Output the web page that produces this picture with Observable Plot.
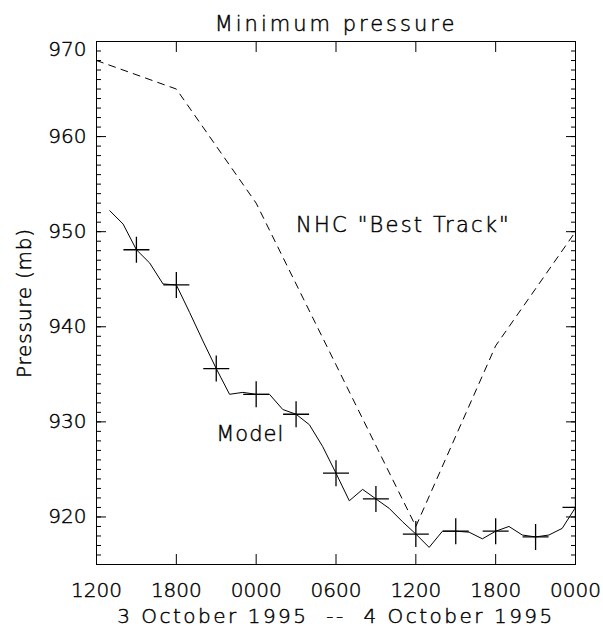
<!DOCTYPE html>
<html>
<head>
<meta charset="utf-8">
<script src="https://cdn.jsdelivr.net/npm/d3@7"></script>
<script src="https://cdn.jsdelivr.net/npm/@observablehq/plot@0.6"></script>
<style>
  body { margin: 0; background: #fff; }
  #chart svg { display: block; }
</style>
</head>
<body>
<div id="chart"></div>
<script>
// ---- Data ----
const titleText = "Minimum pressure";
const yLabelText = "Pressure (mb)";
const captionText = "3 October 1995 \u00a0--\u00a0 4 October 1995";

// x = hours after 1200 UTC 3 October 1995
const hourTicks  = [0, 6, 12, 18, 24, 30, 36];
const hourLabels = ["1200", "1800", "0000", "0600", "1200", "1800", "0000"];
const pressureTicks = [920, 930, 940, 950, 960, 970];
const pressureMinorTicks = [915,916,917,918,919,920,921,922,923,924,925,926,927,928,929,930,931,932,933,934,935,936,937,938,939,940,941,942,943,944,945,946,947,948,949,950,951,952,953,954,955,956,957,958,959,960,961,962,963,964,965,966,967,968,969,970];

// NHC "Best Track" (dashed)
const bestTrackHours    = [0, 6, 12, 18, 24, 30, 36];
const bestTrackPressure = [968, 965, 953, 936, 919, 938, 950];

// Model (solid), hourly
const modelHours    = [1,2,3,4,5,6,7,8,9,10,11,12,13,14,15,16,17,18,19,20,21,22,23,24,25,26,27,28,29,30,31,32,33,34,35,36];
const modelPressure = [952.2,950.8,948.1,946.7,944.5,944.4,941.5,938.5,935.6,932.9,933.1,932.9,932.9,931.3,930.8,929.7,927.4,924.6,921.7,922.9,921.9,920.9,919.5,918.2,916.8,918.5,918.5,918.4,917.7,918.5,919.0,918.1,917.9,918.1,918.8,921.0];
// plus markers every 3 hours
const markerHours = [3,6,9,12,15,18,21,24,27,30,33,36];

const seriesLabels = [
  {text: "NHC \"Best Track\"", hour: 15, pressure: 950},
  {text: "Model", hour: 9, pressure: 928}
];

// ---- Build tables ----
const bestTrack = bestTrackHours.map((h, i) => ({hour: h, pressure: bestTrackPressure[i]}));
const model = modelHours.map((h, i) => ({hour: h, pressure: modelPressure[i]}));
const markers = model.filter(d => markerHours.includes(d.hour));
const topTick = pressureTicks.filter(d => d === 970);
const otherTicks = pressureTicks.filter(d => d !== 970);

const plusSymbol = {
  draw(ctx, size) {
    const r = Math.sqrt(size / Math.PI);
    ctx.moveTo(-r, 0); ctx.lineTo(r, 0);
    ctx.moveTo(0, -r); ctx.lineTo(0, r);
  }
};

const FONT = "DejaVu Sans";
const noText = () => "";

const chart = Plot.plot({
  width: 603,
  height: 626,
  marginLeft: 96,
  marginRight: 28,
  marginTop: 41,
  marginBottom: 62,
  style: {fontFamily: FONT, fontSize: "20px", fontWeight: 300, color: "black", background: "white"},
  x: {domain: [0, 36], label: null},
  y: {domain: [915, 970], label: null},
  marks: [
    // frame
    Plot.frame({stroke: "black", strokeWidth: 1}),
    // y minor + major ticks (inward), both sides
    Plot.axisY(pressureMinorTicks, {anchor: "left", tickSize: -5, tickFormat: noText, label: null}),
    Plot.axisY(pressureMinorTicks, {anchor: "right", tickSize: -5, tickFormat: noText, label: null}),
    Plot.axisY(pressureTicks, {anchor: "left", tickSize: -10, tickFormat: noText, label: null}),
    Plot.axisY(pressureTicks, {anchor: "right", tickSize: -10, tickFormat: noText, label: null}),
    // y labels
    Plot.axisY(otherTicks, {anchor: "left", tickSize: 0, tickPadding: 10, label: null, fontSize: 20}),
    Plot.axisY(topTick, {anchor: "left", tickSize: 0, tickPadding: 10, label: null, fontSize: 20, dy: 8}),
    // x ticks (inward) top and bottom
    Plot.axisX(hourTicks, {anchor: "bottom", tickSize: -10, tickFormat: noText, label: null}),
    Plot.axisX(hourTicks, {anchor: "top", tickSize: -10, tickFormat: noText, label: null}),
    // x labels
    Plot.axisX(hourTicks, {anchor: "bottom", tickSize: 0, tickPadding: 18, label: null, fontSize: 20,
      tickFormat: d => hourLabels[hourTicks.indexOf(d)]}),
    // data
    Plot.line(bestTrack, {x: "hour", y: "pressure", stroke: "black", strokeWidth: 1, strokeDasharray: "7,6"}),
    Plot.line(model, {x: "hour", y: "pressure", stroke: "black", strokeWidth: 1}),
    Plot.dot(markers, {x: "hour", y: "pressure", symbol: plusSymbol, r: 13, fill: "none", stroke: "black", strokeWidth: 1.3, clip: true}),
    // series labels
    Plot.text(seriesLabels, {x: "hour", y: "pressure", text: "text", textAnchor: "start", lineAnchor: "bottom", fontSize: 21}),
    // title
    Plot.text([titleText], {text: d => d, frameAnchor: "top", dy: -11, lineAnchor: "bottom", fontSize: 21}),
    // y axis label
    Plot.text([yLabelText], {text: d => d, frameAnchor: "left", textAnchor: "middle", dx: -66, rotate: -90, lineAnchor: "bottom", fontSize: 20}),
    // bottom caption
    Plot.text([captionText], {text: d => d, frameAnchor: "bottom", textAnchor: "middle", dy: 58, lineAnchor: "bottom", fontSize: 20})
  ]
});

document.getElementById("chart").appendChild(chart);

// letter spacing and stroke weight to mimic the thin vector font of the original
d3.select(chart).selectAll("text").each(function() {
  const t = this.textContent;
  let ls = null;
  if (t === titleText) ls = "3px";
  else if (t === captionText) ls = "2.5px";
  else if (t === "NHC \"Best Track\"") ls = "2.2px";
  else if (t === "Model") ls = "1px";
  else if (t === yLabelText) ls = "0.8px";
  const sel = d3.select(this).style("fill", "black").style("stroke", "black").style("stroke-width", "0.45px");
  if (ls) sel.style("letter-spacing", ls);
});
</script>
</body>
</html>
